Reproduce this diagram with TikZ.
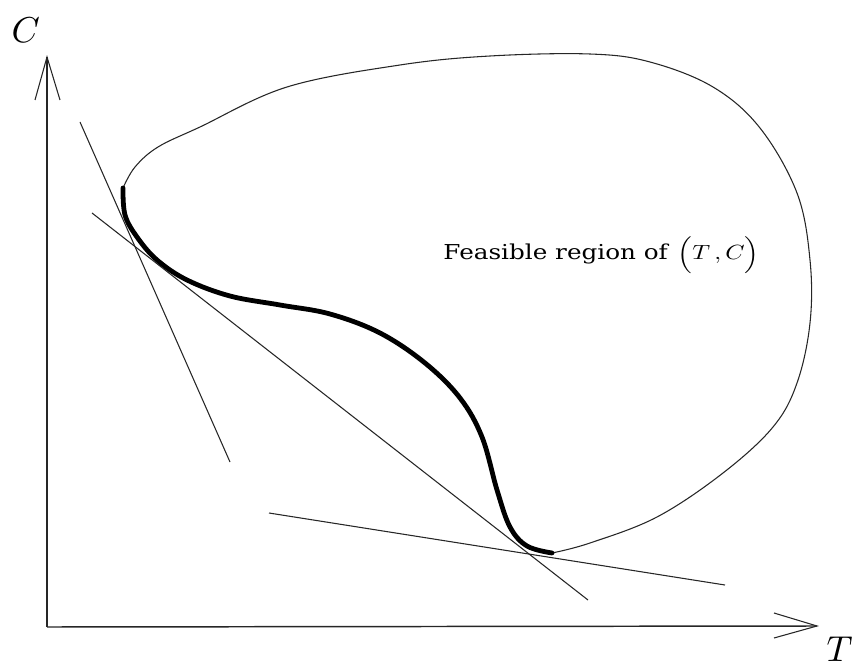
\documentclass[tikz,border=0pt]{standalone}
\usepackage{fontspec}
\newfontfamily\labelfont{DejaVu Serif}
\begin{document}
\begin{tikzpicture}[x=0.75pt,y=-0.75pt,
  thinline/.style={line width=0.8pt,black!85},
  axisline/.style={line width=1.1pt,black!85},
  thickcurve/.style={line width=3.6pt,black,line cap=round},
  biglabel/.style={inner sep=0pt,scale=2.7}]
\useasboundingbox (0,0) rectangle (853,666);
% axes
\coordinate (O) at (47,627);
\coordinate (Ctip) at (47,57);
\coordinate (Ttip) at (817,626);
\draw[axisline] (O) -- (Ctip);
\draw[axisline] (O) -- (Ttip);
\draw[thinline] (35,100) -- (Ctip) -- (60,100);
\draw[thinline] (774,613) -- (Ttip) -- (774,638);
\node[biglabel,anchor=base west] (Clab) at (11,43) {$C$};
\node[biglabel,anchor=base west] (Tlab) at (826,661) {$T$};
% feasible region boundary (upper part)
\draw[thinline] plot[smooth,tension=0.6] coordinates {(123,188) (135,167) (158,147) (200,127) (287,87) (400,65) (490,56) (590,54) (650,62) (713,87) (760,128) (797,193) (810,260) (810,323) (797,383) (773,427) (723,473) (657,517) (590,543) (552,553)};
% efficient frontier
\draw[thickcurve] plot[smooth,tension=0.6] coordinates {(123,188) (125,215) (137,237) (157,260) (187,280) (230,296) (280,305) (330,314) (380,333) (425,363) (460,398) (482,437) (497,490) (510,527) (527,546) (552,553)};
% tangent lines
\coordinate (L1a) at (80,122); \coordinate (L1b) at (230,462);
\coordinate (L2a) at (92,213); \coordinate (L2b) at (588,600);
\coordinate (L3a) at (269,513); \coordinate (L3b) at (725,585);
\draw[thinline] (L1a) -- (L1b);
\draw[thinline] (L2a) -- (L2b);
\draw[thinline] (L3a) -- (L3b);
% label
\node[inner sep=0pt,anchor=base west,xscale=1.85,yscale=1.54] (lab) at (443,260) {{\labelfont Feasible region of}\hspace{4pt}$\Bigl(T\,,C\Bigr)$};
\end{tikzpicture}
\end{document}
